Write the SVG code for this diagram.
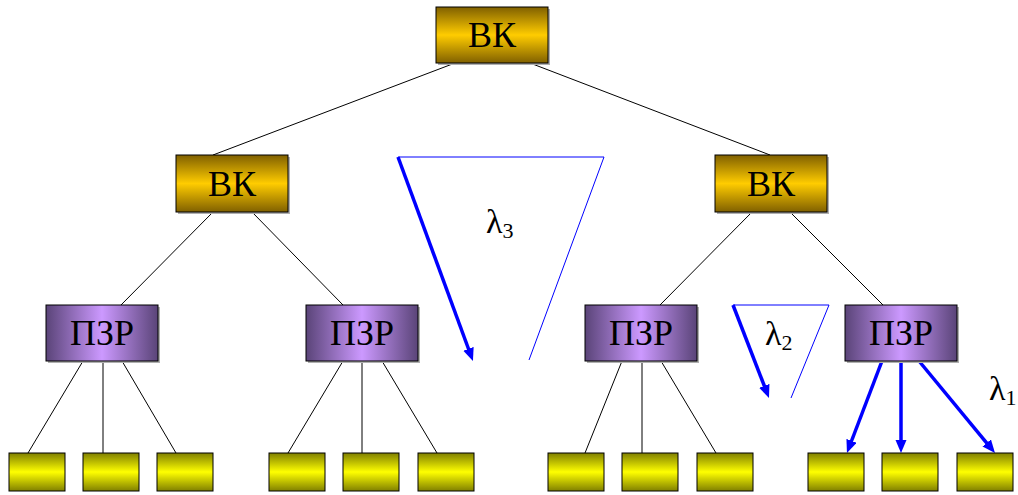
<svg xmlns="http://www.w3.org/2000/svg" width="1018" height="495" viewBox="0 0 1018 495">
<defs>
<linearGradient id="gGold" x1="0" y1="0" x2="0" y2="1">
<stop offset="0" stop-color="#806000"/>
<stop offset="0.5" stop-color="#ffcc00"/>
<stop offset="1" stop-color="#806000"/>
</linearGradient>
<linearGradient id="gPurple" x1="0" y1="0" x2="1" y2="0">
<stop offset="0" stop-color="#5a4478"/>
<stop offset="0.5" stop-color="#cc99ff"/>
<stop offset="1" stop-color="#5a4478"/>
</linearGradient>
<linearGradient id="gYellow" x1="0" y1="0" x2="0" y2="1">
<stop offset="0" stop-color="#808000"/>
<stop offset="0.5" stop-color="#ffff00"/>
<stop offset="1" stop-color="#808000"/>
</linearGradient>
<marker id="ah" markerUnits="userSpaceOnUse" markerWidth="14" markerHeight="12" refX="5" refY="5.5" orient="auto" viewBox="0 0 14 12">
<path d="M0,0 L13,5.5 L0,11 z" fill="#0000ff"/>
</marker>
</defs>
<style>
.bk{fill:url(#gGold);stroke:#000;stroke-width:1}
.pz{fill:url(#gPurple);stroke:#000;stroke-width:1}
.lf{fill:url(#gYellow);stroke:#000;stroke-width:1}
.sh{fill:#b0b0b0}
.lbl{font-family:"Liberation Serif","Times New Roman",serif;font-size:36px;text-anchor:middle;fill:#000}
.lam{font-family:"Liberation Serif","Times New Roman",serif;font-size:34px;fill:#000}
.sub{font-size:22px}
.c{stroke:#000;stroke-width:1;fill:none}
.thin{stroke:#0000ff;stroke-width:1;fill:none}
.thick{stroke:#0000ff;stroke-width:3.5;fill:none;marker-end:url(#ah)}
</style>
<g id="connectors">
<line class="c" x1="455" y1="63" x2="213" y2="155"/>
<line class="c" x1="530" y1="63" x2="770" y2="155"/>
<line class="c" x1="213" y1="212" x2="121" y2="305"/>
<line class="c" x1="252" y1="212" x2="343" y2="305"/>
<line class="c" x1="752" y1="212" x2="660" y2="305"/>
<line class="c" x1="790" y1="212" x2="883" y2="305"/>
<line class="c" x1="83" y1="361" x2="28" y2="453"/>
<line class="c" x1="103" y1="361" x2="103" y2="453"/>
<line class="c" x1="122" y1="361" x2="176" y2="453"/>
<line class="c" x1="343" y1="361" x2="288" y2="453"/>
<line class="c" x1="362" y1="361" x2="362" y2="453"/>
<line class="c" x1="382" y1="361" x2="437" y2="453"/>
<line class="c" x1="622" y1="361" x2="585" y2="453"/>
<line class="c" x1="642" y1="361" x2="642" y2="453"/>
<line class="c" x1="661" y1="361" x2="716" y2="453"/>
<line class="thick" x1="882" y1="361" x2="849.8" y2="445.5"/>
<line class="thick" x1="901" y1="361" x2="901" y2="445"/>
<line class="thick" x1="919" y1="361" x2="989.9" y2="446.8"/>
<polyline class="thin" points="398,157 604,157 529,360"/>
<line class="thick" x1="398" y1="157" x2="470.2" y2="353.5"/>
<polyline class="thin" points="733,305 829,305 791,398"/>
<line class="thick" x1="733" y1="305" x2="766.1" y2="390.5"/>
</g>
<g id="bk0"><rect class="sh" x="438" y="9" width="112" height="56"/><rect class="bk" x="436" y="7" width="112" height="56"/><text class="lbl" x="492" y="47">ВК</text></g>
<g id="bk1"><rect class="sh" x="178" y="157" width="112" height="57"/><rect class="bk" x="176" y="155" width="112" height="57"/><text class="lbl" x="232" y="196">ВК</text></g>
<g id="bk2"><rect class="sh" x="717" y="157" width="112" height="57"/><rect class="bk" x="715" y="155" width="112" height="57"/><text class="lbl" x="771" y="196">ВК</text></g>
<g id="p1"><rect class="sh" x="48" y="307" width="112" height="56"/><rect class="pz" x="46" y="305" width="112" height="56"/><text class="lbl" x="102" y="345">ПЗР</text></g>
<g id="p2"><rect class="sh" x="308" y="307" width="112" height="56"/><rect class="pz" x="306" y="305" width="112" height="56"/><text class="lbl" x="362" y="345">ПЗР</text></g>
<g id="p3"><rect class="sh" x="587" y="307" width="112" height="56"/><rect class="pz" x="585" y="305" width="112" height="56"/><text class="lbl" x="641" y="345">ПЗР</text></g>
<g id="p4"><rect class="sh" x="847" y="307" width="112" height="56"/><rect class="pz" x="845" y="305" width="112" height="56"/><text class="lbl" x="901" y="345">ПЗР</text></g>
<g id="l1"><rect class="lf" x="9" y="453" width="56" height="38"/></g>
<g id="l2"><rect class="lf" x="83" y="453" width="56" height="38"/></g>
<g id="l3"><rect class="lf" x="157" y="453" width="56" height="38"/></g>
<g id="l4"><rect class="lf" x="269" y="453" width="56" height="38"/></g>
<g id="l5"><rect class="lf" x="343" y="453" width="56" height="38"/></g>
<g id="l6"><rect class="lf" x="418" y="453" width="56" height="38"/></g>
<g id="l7"><rect class="lf" x="548" y="453" width="56" height="38"/></g>
<g id="l8"><rect class="lf" x="622" y="453" width="56" height="38"/></g>
<g id="l9"><rect class="lf" x="697" y="453" width="56" height="38"/></g>
<g id="l10"><rect class="lf" x="808" y="453" width="56" height="38"/></g>
<g id="l11"><rect class="lf" x="882" y="453" width="56" height="38"/></g>
<g id="l12"><rect class="lf" x="957" y="453" width="56" height="38"/></g>
<g id="lambda3"><text class="lam" x="486" y="233">λ<tspan class="sub" dy="5">3</tspan></text></g>
<g id="lambda2"><text class="lam" x="765" y="345">λ<tspan class="sub" dy="5">2</tspan></text></g>
<g id="lambda1"><text class="lam" x="989" y="400">λ<tspan class="sub" dy="5">1</tspan></text></g>
</svg>
